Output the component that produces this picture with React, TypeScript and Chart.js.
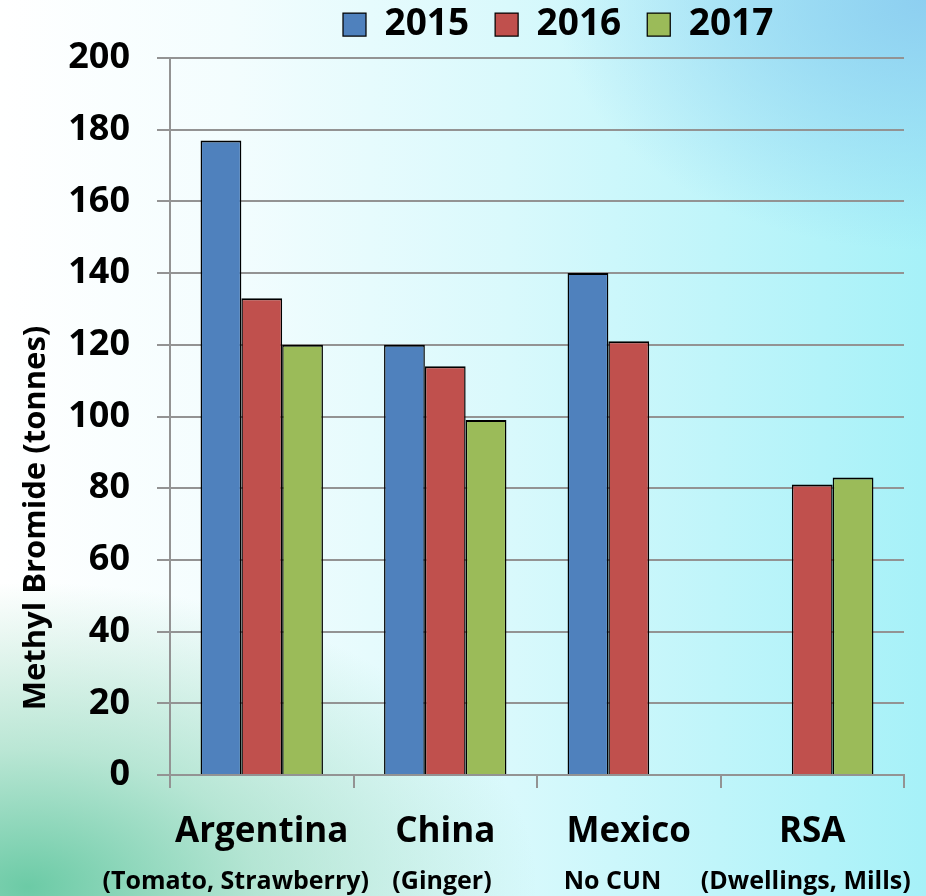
import React, { useEffect, useRef } from 'react';
import { Chart, registerables } from 'chart.js';

Chart.register(...registerables);

const categories = ['Argentina', 'China', 'Mexico', 'RSA'];
const subLabels = ['(Tomato, Strawberry)', '(Ginger)', 'No CUN', '(Dwellings, Mills)'];
const seriesLabels = ['2015', '2016', '2017'];
const values2015: (number | null)[] = [177, 120, 140, null];
const values2016: (number | null)[] = [133, 114, 121, 81];
const values2017: (number | null)[] = [120, 99, null, 83];
const yMin = 0;
const yMax = 200;
const yStep = 20;
const yTitle = 'Methyl Bromide (tonnes)';

// trailing non-breaking spaces that nudge each sub-label left, as in the original slide
const subLabelTrail = [8, 1, 5, 2];

const seriesColors = ['#4F81BD', '#C0504D', '#9BBB59'];
const FONT = "'Open Sans', 'DejaVu Sans', sans-serif";
const GRID = '#939393';

export default function App() {
  const ref = useRef<HTMLCanvasElement>(null);

  useEffect(() => {
    document.body.style.margin = '0';
    const canvas = ref.current;
    if (!canvas) return;

    const yTitlePlugin = {
      id: 'yTitlePlugin',
      afterDraw(chart: any) {
        const { ctx } = chart;
        ctx.save();
        ctx.translate(36, 518);
        ctx.rotate(-Math.PI / 2);
        ctx.font = `bold 31px ${FONT}`;
        ctx.fillStyle = '#000';
        ctx.textAlign = 'center';
        ctx.textBaseline = 'middle';
        ctx.fillText(yTitle, 0, 0);
        ctx.restore();
      },
    };

    const legendShift = {
      id: 'legendShift',
      afterLayout(chart: any) {
        const lg = chart.legend;
        if (!lg || !lg.lineWidths) return;
        const p = lg.options.labels.padding;
        const x0 = (lg.left + p + lg.right - lg.lineWidths[0]) / 2;
        const d = 343 - x0;
        lg.left += d;
        lg.right += d;
      },
    };

    const allValues = [values2015, values2016, values2017];
    const bw = { top: 2, left: 1.5, right: 1.5, bottom: 0 };
    const x2Labels = subLabels.map((s, i) => s + '\u00A0'.repeat(subLabelTrail[i]));

    const chart = new Chart(canvas, {
      type: 'bar',
      data: {
        labels: categories,
        datasets: seriesLabels.map((label, i) => ({
          label,
          data: allValues[i],
          backgroundColor: seriesColors[i],
          borderColor: '#000',
          borderWidth: bw,
          categoryPercentage: 0.667,
          barPercentage: 1,
          xAxisID: 'x',
          yAxisID: 'y',
        })),
      },
      options: {
        responsive: false,
        animation: false,
        layout: { padding: { top: -20, right: 22, bottom: 0, left: 0 } },
        plugins: {
          legend: {
            position: 'top',
            align: 'center',
            labels: {
              font: { family: FONT, size: 37, weight: 'bold' },
              color: '#000',
              boxWidth: 23,
              boxHeight: 23,
              padding: 26,
            },
          },
          tooltip: { enabled: false },
        },
        scales: {
          x: {
            type: 'category',
            position: 'bottom',
            offset: true,
            grid: {
              offset: true,
              display: true,
              drawOnChartArea: false,
              drawTicks: true,
              tickLength: 13,
              color: GRID,
              lineWidth: 2,
            },
            border: { display: true, color: GRID, width: 2 },
            ticks: {
              font: { family: FONT, size: 35, weight: 'bold' },
              color: '#000',
              padding: 23,
              maxRotation: 0,
              autoSkip: false,
            },
            afterFit: (s: any) => {
              s.height = 80;
              s.paddingLeft = 0;
              s.paddingRight = 0;
            },
          },
          x2: {
            type: 'category',
            position: 'bottom',
            labels: x2Labels,
            offset: true,
            grid: { display: false, drawTicks: false },
            border: { display: false },
            ticks: {
              font: { family: FONT, size: 25, weight: 'bold' },
              color: '#000',
              padding: 12,
              maxRotation: 0,
              autoSkip: false,
            },
            afterFit: (s: any) => {
              s.height = 41;
              s.paddingLeft = 0;
              s.paddingRight = 0;
            },
          },
          xTop: {
            type: 'category',
            position: 'top',
            labels: categories,
            offset: true,
            grid: { display: false, drawTicks: false },
            border: { display: false },
            ticks: { display: false },
            afterFit: (s: any) => {
              s.height = 5;
            },
          },
          y: {
            type: 'linear',
            min: yMin,
            max: yMax,
            ticks: {
              stepSize: yStep,
              font: { family: FONT, size: 36, weight: 'bold' },
              color: '#000',
              padding: 27,
            },
            grid: { color: GRID, lineWidth: 2, tickLength: 13 },
            border: { display: true, color: GRID, width: 2 },
            afterFit: (s: any) => {
              s.width = 170;
            },
          },
        },
      } as any,
      plugins: [yTitlePlugin, legendShift],
    });

    return () => chart.destroy();
  }, []);

  return (
    <div
      style={{
        position: 'absolute',
        left: 0,
        top: 0,
        width: 926,
        height: 896,
        overflow: 'hidden',
        background:
          'radial-gradient(ellipse 55% 34% at 3% 99%, rgba(95,198,158,0.92) 0%, rgba(140,214,184,0.6) 45%, rgba(255,255,255,0) 100%),' +
          'radial-gradient(ellipse 40% 28% at 100% 0%, rgba(140,205,240,0.95) 0%, rgba(160,220,245,0) 100%),' +
          'linear-gradient(90deg, #ffffff 0%, #f3fdfe 25%, #d9f9fc 55%, #a6f1f8 100%)',
      }}
    >
      <canvas ref={ref} width={926} height={896} style={{ display: 'block', width: 926, height: 896 }} />
    </div>
  );
}
